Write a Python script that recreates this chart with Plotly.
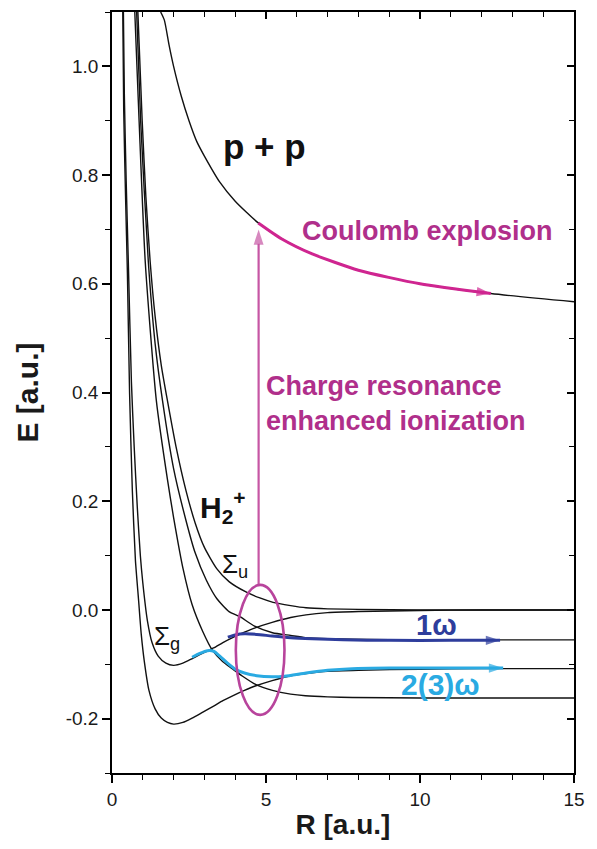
import plotly.graph_objects as go

# ---- potential curves (R in a.u., E in a.u.) ----
coulomb_R = [1.58, 1.7, 1.85, 2.0, 2.25, 2.5, 2.75, 3.0, 3.5, 4.0, 4.75, 5.5, 6.5, 8.0, 10.0, 12.3, 15.0]
coulomb_E = [1.10, 1.085, 1.04, 1.0, 0.945, 0.9, 0.862, 0.835, 0.787, 0.752, 0.712, 0.683, 0.655, 0.625, 0.600, 0.582, 0.567]

sg_R = [0.37, 0.40, 0.46, 0.53, 0.63, 0.72, 0.82, 0.92, 1.0, 1.15, 1.3, 1.5, 1.75, 2.0, 2.3, 2.62, 3.0, 3.3,
        3.6, 3.95, 4.3, 4.65, 5.2, 5.8, 6.3, 7.0, 8.0, 10.0, 12.0, 15.0]
sg_E = [1.10, 0.95, 0.79, 0.64, 0.42, 0.30, 0.19, 0.10, 0.05, -0.02, -0.06, -0.085, -0.098, -0.102, -0.098,
        -0.089, -0.078, -0.070, -0.060, -0.050, -0.041, -0.033, -0.023, -0.014, -0.009, -0.005, -0.003,
        -0.001, 0.0, 0.0]

sg2_R = [0.35, 0.38, 0.44, 0.50, 0.57, 0.66, 0.76, 0.86, 0.95, 1.05, 1.2, 1.4, 1.6, 1.8, 2.0, 2.3, 2.6, 2.95,
         3.3, 3.6, 3.95, 4.3, 4.65, 5.2, 5.8, 6.3, 7.0, 8.0, 10.0, 12.0, 15.0]
sg2_E = [1.10, 0.92, 0.76, 0.62, 0.40, 0.22, 0.092, 0.02, -0.045, -0.095, -0.148, -0.182, -0.199, -0.207,
         -0.210, -0.207, -0.199, -0.188, -0.177, -0.167, -0.157, -0.148, -0.140, -0.130, -0.121, -0.117,
         -0.113, -0.111, -0.109, -0.108, -0.108]

su_R = [0.84, 0.98, 1.1, 1.24, 1.4, 1.6, 1.8, 2.08, 2.4, 2.7, 3.0, 3.4, 3.8, 4.35, 4.8, 5.23, 5.8, 6.3, 7.0,
        8.0, 10.0, 15.0]
su_E = [1.10, 0.90, 0.76, 0.64, 0.54, 0.45, 0.385, 0.30, 0.22, 0.16, 0.115, 0.076, 0.052, 0.033, 0.022,
        0.014, 0.008, 0.004, 0.002, 0.001, 0.0, 0.0]

su1_R = [0.80, 0.93, 1.18, 1.4, 1.64, 2.0, 2.4, 2.7, 3.06, 3.4, 3.8, 4.14, 4.63, 5.21, 5.8, 6.28, 7.0, 7.81,
         10.0, 15.0]
su1_E = [1.10, 0.90, 0.64, 0.49, 0.385, 0.26, 0.165, 0.105, 0.055, 0.021, -0.003, -0.012, -0.030, -0.042,
         -0.047, -0.051, -0.053, -0.054, -0.055, -0.055]

su3_R = [0.74, 0.88, 1.08, 1.44, 1.8, 2.0, 2.31, 2.6, 2.95, 3.27, 3.59, 3.9, 4.24, 4.66, 5.21, 5.8, 6.28,
         7.0, 7.81, 10.0, 15.0]
su3_E = [1.10, 0.90, 0.64, 0.385, 0.24, 0.17, 0.075, 0.01, -0.04, -0.075, -0.095, -0.108, -0.122, -0.137,
         -0.148, -0.155, -0.158, -0.160, -0.161, -0.162, -0.162]

# ---- dressed-state paths ----
one_w_R = [3.76, 4.0, 4.3, 4.7, 5.2, 5.8, 6.5, 7.5, 9.0, 11.0, 12.6]
one_w_E = [-0.050, -0.046, -0.044, -0.045, -0.048, -0.051, -0.053, -0.055, -0.056, -0.056, -0.056]

two_w_R = [2.6, 2.85, 3.1, 3.3, 3.5, 3.75, 4.0, 4.3, 4.7, 5.2, 5.6, 6.3, 7.0, 7.8, 9.0, 11.0, 12.7]
two_w_E = [-0.087, -0.080, -0.075, -0.076, -0.085, -0.098, -0.109, -0.116, -0.121, -0.123, -0.122, -0.116,
           -0.111, -0.108, -0.107, -0.107, -0.107]

# Coulomb explosion path runs along the p+p curve
explosion_start, explosion_end = 4.75, 12.3
# charge-resonance enhanced ionization: vertical jump at fixed R
ionization_R = [4.76, 4.76]
ionization_E = [0.046, 0.700]

x_tick_vals = [0, 5, 10, 15]
x_tick_text = ["0", "5", "10", "15"]
y_tick_vals = [-0.2, 0.0, 0.2, 0.4, 0.6, 0.8, 1.0]
y_tick_text = ["-0.2", "0.0", "0.2", "0.4", "0.6", "0.8", "1.0"]

FONT = "Liberation Sans, Arial, sans-serif"
MAGENTA_TEXT = "#B02F8B"
MAGENTA_LINE = "#CF2590"
MAGENTA_VERT = "#C656A4"
ELLIPSE = "#B8449C"
BLUE = "#2E3D9C"
CYAN = "#2AAAE2"

fig = go.Figure()

black = dict(color="#111111", width=1.4, shape="spline", smoothing=0.6)
for R, E in [(coulomb_R, coulomb_E), (sg_R, sg_E), (sg2_R, sg2_E), (su_R, su_E), (su1_R, su1_E), (su3_R, su3_E)]:
    fig.add_trace(go.Scatter(x=R, y=E, mode="lines", line=black, showlegend=False, hoverinfo="skip"))


def arrow_path(R, E, color, width, head=15, shape="spline"):
    """Line with an arrowhead marker on its final point, oriented along the last segment."""
    sizes = [0] * (len(R) - 1) + [head]
    fig.add_trace(go.Scatter(
        x=R, y=E, mode="lines+markers",
        line=dict(color=color, width=width, shape=shape, smoothing=0.6),
        marker=dict(symbol="arrow", size=sizes, color=color, angleref="previous", line=dict(width=0)),
        showlegend=False, hoverinfo="skip"))


# Coulomb explosion arrow
ce_R = [r for r in coulomb_R if explosion_start <= r <= explosion_end]
ce_E = [e for r, e in zip(coulomb_R, coulomb_E) if explosion_start <= r <= explosion_end]
arrow_path(ce_R, ce_E, MAGENTA_LINE, 3)

# 1ω and 2(3)ω paths
arrow_path(one_w_R, one_w_E, BLUE, 3)
arrow_path(two_w_R, two_w_E, CYAN, 3)

# vertical ionization arrow from the ellipse up to the p+p curve
arrow_path(ionization_R, ionization_E, MAGENTA_VERT, 2.2, head=16, shape="linear")

# dummy trace so the mirrored (inside-tick) axes are drawn
fig.add_trace(go.Scatter(x=[None], y=[None], xaxis="x2", yaxis="y2", showlegend=False, hoverinfo="skip"))

# charge-resonance region
fig.add_shape(type="circle", xref="x", yref="y", x0=4.02, x1=5.6, y0=-0.193, y1=0.046,
              line=dict(color=ELLIPSE, width=2.6))


def label(x, y, text, size, color="#111111", weight="bold", **kw):
    fig.add_annotation(x=x, y=y, xref="x", yref="y", text=text, showarrow=False,
                       font=dict(family=FONT, size=size, color=color, weight=weight), **kw)


label(4.95, 0.853, "p + p", 35)
label(10.23, 0.697, "Coulomb explosion", 27, MAGENTA_TEXT)
label(4.92, 0.38, "Charge resonance<br>enhanced ionization", 27, MAGENTA_TEXT, xanchor="left", align="left")
label(3.6, 0.19, "H<sub>2</sub><sup>+</sup>", 30)
label(4.0, 0.082, "Σ<sub>u</sub>", 26, weight="normal")
label(1.8, -0.05, "Σ<sub>g</sub>", 26, weight="normal")
label(10.52, -0.028, "1ω", 29, BLUE)
label(10.68, -0.138, "2(3)ω", 30, CYAN)

axis_common = dict(showgrid=False, zeroline=False, showline=True, linecolor="black", linewidth=1.5,
                   tickcolor="black", tickwidth=1.5)

fig.update_layout(
    width=597, height=849,
    margin=dict(l=112, r=23, t=10, b=76),
    paper_bgcolor="white", plot_bgcolor="white",
    font=dict(family=FONT, color="#1a1a1a"),
    xaxis=dict(range=[0, 15], tickvals=x_tick_vals, ticktext=x_tick_text, ticks="outside", ticklen=8,
               minor=dict(dtick=1, tick0=0, ticks="outside", ticklen=5, tickcolor="black", tickwidth=1.3),
               mirror=True, tickfont=dict(size=19),
               title=dict(text="R [a.u.]", font=dict(size=28, weight="bold"), standoff=6), **axis_common),
    yaxis=dict(range=[-0.3, 1.1], tickvals=y_tick_vals, ticktext=y_tick_text, ticks="outside", ticklen=8,
               minor=dict(dtick=0.1, tick0=0, ticks="outside", ticklen=5, tickcolor="black", tickwidth=1.3),
               mirror=True, tickfont=dict(size=19),
               title=dict(text="E [a.u.]", font=dict(size=30, weight="bold"), standoff=18), **axis_common),
    xaxis2=dict(overlaying="x", side="top", matches="x", anchor="y2", showgrid=False, zeroline=False,
                showline=False, showticklabels=False, tickvals=x_tick_vals, ticks="inside", ticklen=7,
                tickcolor="black", tickwidth=1.5,
                minor=dict(dtick=1, tick0=0, ticks="inside", ticklen=5, tickcolor="black", tickwidth=1.3)),
    yaxis2=dict(overlaying="y", side="right", matches="y", anchor="x2", showgrid=False, zeroline=False,
                showline=False, showticklabels=False, tickvals=y_tick_vals, ticks="inside", ticklen=7,
                tickcolor="black", tickwidth=1.5,
                minor=dict(dtick=0.1, tick0=0, ticks="inside", ticklen=5, tickcolor="black", tickwidth=1.3)),
)

fig.write_html("out.html")
